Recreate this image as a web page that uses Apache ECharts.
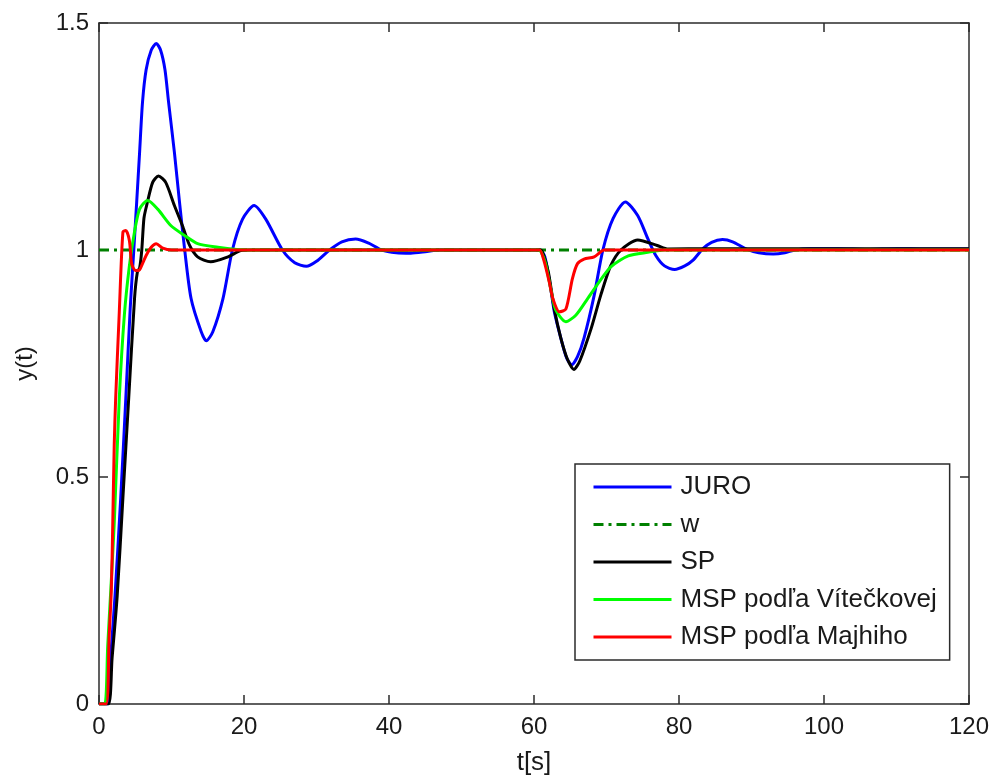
<!DOCTYPE html>
<html>
<head>
<meta charset="utf-8">
<script src="https://cdn.jsdelivr.net/npm/echarts@6/dist/echarts.min.js"></script>
<style>
html,body{margin:0;padding:0;background:#fff;}
#chart{width:993px;height:781px;}
</style>
</head>
<body>
<div id="chart"></div>
<script>
// ---- data ----
var seriesNames = ['JURO', 'w', 'SP', 'MSP podľa Vítečkovej', 'MSP podľa Majhiho'];
var xTicks = [0, 20, 40, 60, 80, 100, 120];
var yTicks = [0, 0.5, 1, 1.5];

var juroT = [0, 1.2, 1.6, 2.2, 3.0, 3.7, 4.3, 4.8, 5.2, 5.6, 6.0, 6.5, 7.2, 7.9, 8.5, 9.1, 9.6, 10.4, 11.1, 11.8, 12.7, 14.1, 14.8, 15.7, 17.1, 18.4, 19.8, 21.4, 23, 25.3, 27, 28.6, 30, 31.8, 33.5, 35.4, 37.2, 39, 41, 43, 45, 47, 48, 60.4, 60.8, 61.5, 62.3, 62.8, 63.7, 64.5, 65.2, 66.0, 66.9, 68.3, 69.5, 70.9, 72.6, 74.3, 75.7, 76.8, 78, 79.4, 80.8, 81.9, 83.3, 84.5, 86.0, 87.4, 89.3, 91, 93, 94.6, 96, 98, 102, 106, 110, 114, 120];
var juroY = [0, 0, 0.1, 0.236, 0.455, 0.674, 0.87, 1.0, 1.106, 1.215, 1.325, 1.397, 1.44, 1.455, 1.44, 1.397, 1.325, 1.215, 1.106, 1.003, 0.893, 0.82, 0.80, 0.82, 0.893, 1.0, 1.068, 1.098, 1.068, 1.0, 0.972, 0.964, 0.975, 1.0, 1.018, 1.024, 1.015, 1.0, 0.994, 0.993, 0.996, 1.0, 1.0, 1.0, 1.0, 0.985, 0.915, 0.864, 0.806, 0.762, 0.747, 0.765, 0.806, 0.9, 1.0, 1.069, 1.106, 1.076, 1.025, 0.988, 0.965, 0.957, 0.965, 0.977, 1.003, 1.017, 1.023, 1.018, 1.002, 0.994, 0.991, 0.994, 1.0, 1.003, 1.003, 1.001, 1.003, 1.002, 1.002];

var wT = [0, 120];
var wY = [1, 1];

var spT = [0, 1.3, 1.8, 2.5, 3.3, 4.1, 4.9, 5.3, 5.6, 5.9, 6.2, 6.6, 7.4, 8.2, 9.2, 10.4, 11.5, 12.5, 13.6, 15.4, 17.8, 19.6, 21, 22, 60.9, 61.3, 62.0, 62.8, 63.7, 64.6, 65.5, 66.3, 67.9, 69.2, 70.6, 72, 74.3, 77, 78.5, 84, 120];
var spY = [0, 0, 0.1, 0.236, 0.455, 0.674, 0.893, 0.952, 0.96, 1.0, 1.07, 1.1, 1.149, 1.163, 1.149, 1.098, 1.054, 1.01, 0.985, 0.974, 0.985, 0.999, 1.0, 1.0, 1.0, 0.99, 0.95, 0.87, 0.806, 0.76, 0.737, 0.755, 0.828, 0.9, 0.966, 1.0, 1.022, 1.01, 1.002, 1.003, 1.003];

var mvT = [0, 0.8, 1.2, 1.65, 2.1, 2.8, 3.5, 4.2, 4.9, 5.6, 6.7, 8.1, 9.9, 11.8, 13.6, 16.4, 19, 20.5, 21.5, 60.6, 61.0, 61.6, 62.3, 63.0, 64.4, 65.8, 67.4, 69.0, 70.6, 73.0, 75.7, 78, 79, 120];
var mvY = [0, 0, 0.127, 0.258, 0.397, 0.674, 0.857, 0.966, 1.04, 1.09, 1.109, 1.09, 1.054, 1.032, 1.014, 1.006, 1.001, 1.0, 1.0, 1.0, 0.995, 0.97, 0.915, 0.868, 0.842, 0.857, 0.893, 0.93, 0.963, 0.987, 0.995, 1.0, 1.0, 1.0];

var mmT = [0, 1.0, 1.4, 1.7, 1.9, 2.1, 2.3, 2.8, 3.3, 3.7, 4.2, 4.5, 5.0, 5.5, 6.0, 6.5, 7.2, 7.9, 8.8, 10, 11, 60.5, 60.8, 61.4, 62.1, 62.6, 63.5, 64.4, 65.3, 66.0, 66.9, 68.3, 69.7, 70.7, 120];
var mmY = [0, 0, 0.15, 0.25, 0.4, 0.57, 0.674, 0.864, 1.04, 1.043, 1.02, 0.97, 0.955, 0.955, 0.97, 0.988, 1.006, 1.014, 1.004, 1.0, 1.0, 1.0, 1.0, 0.975, 0.93, 0.893, 0.864, 0.87, 0.937, 0.97, 0.98, 0.985, 1.0, 1.0, 1.0];

function pairs(t, y) { return t.map(function (v, i) { return [v, y[i]]; }); }

var textColor = '#1a1a1a';
var axisColor = '#2b2b2b';
var fontFam = '"Liberation Sans", Arial, sans-serif';

var chart = echarts.init(document.getElementById('chart'), null, {renderer: 'canvas'});

function xAx(pos, showLabels) {
  return {
    type: 'value', position: pos, min: 0, max: 120, interval: 20,
    axisLine: {show: true, onZero: false, lineStyle: {color: axisColor, width: 1.5}},
    axisTick: {show: true, inside: true, length: 9, lineStyle: {color: axisColor, width: 1.5}},
    axisLabel: {show: showLabels, fontSize: 24, color: textColor, fontFamily: fontFam, margin: 11,
      formatter: function (v) { return xTicks.indexOf(v) >= 0 ? String(v) : ''; }},
    splitLine: {show: false},
    name: showLabels ? 't[s]' : '', nameLocation: 'middle', nameGap: 46,
    nameTextStyle: {fontSize: 26, color: textColor, fontFamily: fontFam}
  };
}
function yAx(pos, showLabels) {
  return {
    type: 'value', position: pos, min: 0, max: 1.5, interval: 0.5,
    axisLine: {show: true, onZero: false, lineStyle: {color: axisColor, width: 1.5}},
    axisTick: {show: true, inside: true, length: 9, lineStyle: {color: axisColor, width: 1.5}},
    axisLabel: {show: showLabels, fontSize: 24, color: textColor, fontFamily: fontFam, margin: 10,
      formatter: function (v) { return yTicks.indexOf(v) >= 0 ? String(v) : ''; }},
    splitLine: {show: false},
    name: showLabels ? 'y(t)' : '', nameLocation: 'middle', nameGap: 62, nameRotate: 90,
    nameTextStyle: {fontSize: 24, color: textColor, fontFamily: fontFam}
  };
}

var colors = ['#0000ff', '#008000', '#000000', '#00ff00', '#ff0000'];
var dataSets = [pairs(juroT, juroY), pairs(wT, wY), pairs(spT, spY), pairs(mvT, mvY), pairs(mmT, mmY)];

var series = seriesNames.map(function (name, i) {
  return {
    name: name, type: 'line', xAxisIndex: 0, yAxisIndex: 0,
    data: dataSets[i], symbol: 'none', showSymbol: false,
    smooth: i === 1 ? false : 0.25,
    lineStyle: {color: colors[i], width: 3, type: i === 1 ? [10, 5, 3, 5] : 'solid'},
    itemStyle: {color: colors[i]},
    animation: false, z: 2 + i
  };
});

chart.setOption({
  backgroundColor: '#ffffff',
  animation: false,
  grid: {left: 99, right: 24, top: 23, bottom: 74, containLabel: false},
  xAxis: [xAx('bottom', true), xAx('top', false)],
  yAxis: [yAx('left', true), yAx('right', false)],
  legend: {
    show: true, orient: 'vertical', left: 575, top: 464,
    data: seriesNames,
    itemWidth: 78, itemHeight: 4, itemGap: 11.5,
    padding: [10, 13, 10, 17],
    backgroundColor: '#ffffff',
    borderColor: axisColor, borderWidth: 1.5, borderRadius: 0,
    itemStyle: {opacity: 0},
    lineStyle: {width: 3},
    textStyle: {fontSize: 26, lineHeight: 26, color: textColor, fontFamily: fontFam, padding: [0, 0, 0, 4]},
    selectedMode: false
  },
  series: series
});
</script>
</body>
</html>
